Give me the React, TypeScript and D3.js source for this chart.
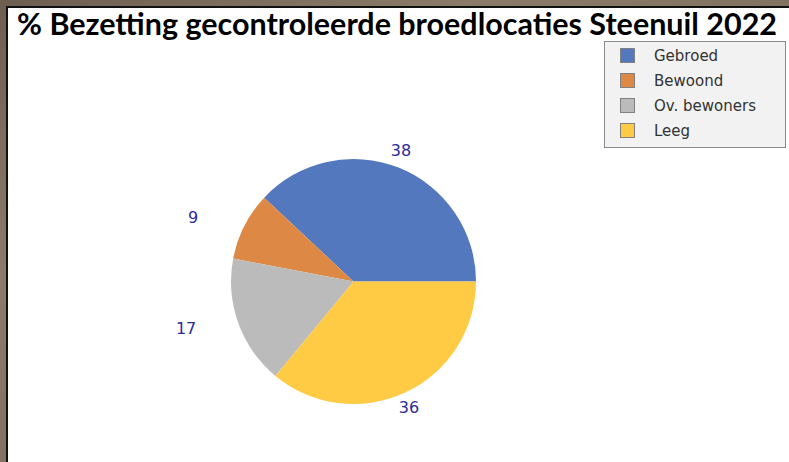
import React from "react";
import * as d3 from "d3";

const categories = ["Gebroed", "Bewoond", "Ov. bewoners", "Leeg"];
const values = [38, 9, 17, 36];
const colors = ["#5378bd", "#dd8844", "#bbbbbb", "#ffcb44"];
const title = "% Bezetting gecontroleerde broedlocaties Steenuil 2022";

const W = 789;
const H = 462;

export default function App() {
  const cx = 353.5;
  const cy = 281.5;
  const r = 122.5;
  const pie = d3
    .pie<number>()
    .sort(null)
    .value((d) => d)
    .startAngle(Math.PI / 2)
    .endAngle(Math.PI / 2 - 2 * Math.PI);
  const arcs = pie(values);
  const arc = d3.arc<d3.PieArcDatum<number>>().innerRadius(0).outerRadius(r);
  const legendY = d3.scaleBand<string>().domain(categories).range([43, 143]).padding(0);

  return (
    <svg
      width={W}
      height={H}
      style={{ position: "absolute", left: 0, top: 0, display: "block" }}
    >
      <defs>
        <linearGradient id="photo" x1="0" y1="0" x2="1" y2="1">
          <stop offset="0" stopColor="#6d5e52" />
          <stop offset="0.3" stopColor="#8a7c68" />
          <stop offset="0.6" stopColor="#7d6e5e" />
          <stop offset="1" stopColor="#5e5248" />
        </linearGradient>
      </defs>
      <rect x={0} y={0} width={W} height={H} fill="url(#photo)" />
      <rect x={6} y={6} width={W} height={H} fill="#111" />
      <rect x={8} y={8} width={W} height={H} fill="#ffffff" />
      <text
        x={17}
        y={35}
        fontFamily="Lato, 'Noto Sans', sans-serif"
        fontWeight={700}
        fontSize={30}
        fill="#000"
        textLength={760}
        lengthAdjust="spacingAndGlyphs"
      >
        {title}
      </text>
      <g transform={`translate(${cx},${cy})`}>
        {arcs.map((a, i) => (
          <path key={i} d={arc(a) || ""} fill={colors[i]} />
        ))}
        {arcs.map((a, i) => {
          const mid = (a.startAngle + a.endAngle) / 2;
          const lr = r * 1.14;
          let x = Math.sin(mid) * lr - 4;
          const y = -Math.cos(mid) * lr - 1;
          if (x < 0) x -= 32;
          return (
            <text
              key={"l" + i}
              x={x}
              y={y}
              dy="0.36em"
              textAnchor="middle"
              fontFamily="'DejaVu Sans', sans-serif"
              fontSize={16}
              fill="#2b2b9c"
            >
              {values[i]}
            </text>
          );
        })}
      </g>
      <rect x={604.5} y={41.5} width={181} height={106} fill="#f2f2f2" stroke="#8a8a8a" strokeWidth={1} />
      {categories.map((c, i) => {
        const y = (legendY(c) || 0) + legendY.bandwidth() / 2;
        return (
          <g key={c}>
            <rect x={620.5} y={y - 7} width={14} height={14} fill={colors[i]} stroke="#808080" strokeWidth={1} />
            <text
              x={654}
              y={y}
              dy="0.35em"
              fontFamily="'DejaVu Sans', sans-serif"
              fontSize={15}
              fill="#333"
            >
              {c}
            </text>
          </g>
        );
      })}
    </svg>
  );
}
